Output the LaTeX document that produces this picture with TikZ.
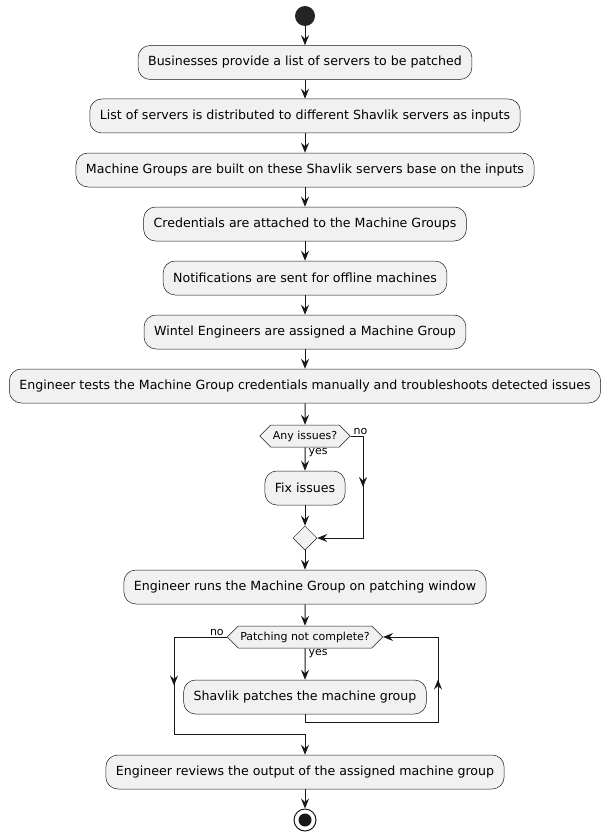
\documentclass[tikz,border=0pt]{standalone}
\usepackage{fontspec}
\setmainfont{DejaVu Sans}
\usepackage{xcolor}
\usepackage{tikz}
\usetikzlibrary{arrows.meta,shapes.geometric,shapes.symbols,calc}
\definecolor{actfill}{HTML}{F1F1F1}
\definecolor{actline}{HTML}{181818}

\begin{document}
\begin{tikzpicture}[x=1pt,y=-1pt,
  act/.style={draw=actline,line width=0.5pt,fill=actfill,rounded corners=12pt,minimum height=34pt,inner xsep=10pt,font=\fontsize{12.6}{14}\selectfont},
  cond/.style={draw=actline,line width=0.5pt,fill=actfill,signal,signal to=east and west,signal pointer angle=90,minimum height=22pt,inner xsep=2pt,font=\fontsize{11}{13}\selectfont},
  merge/.style={draw=actline,line width=0.5pt,fill=actfill,diamond,minimum size=24pt,inner sep=0pt},
  flow/.style={draw=actline,line width=1pt,-{Stealth[length=10pt,width=8pt,inset=3.5pt]}},
  guard/.style={font=\fontsize{11}{13}\selectfont,inner sep=1pt}]
%\draw[help lines] (0,0)grid[step=20](612,840);
\fill[white] (0,0) rectangle (612,840);
\node[circle,fill=actline!95,minimum size=20pt,inner sep=0pt] (start) at (305,16) {};
\node[act] (b1) at (305,62.5) {Businesses provide a list of servers to be patched};
\node[act] (b2) at (305,116) {List of servers is distributed to different Shavlik servers as inputs};
\node[act] (b3) at (305,170) {Machine Groups are built on these Shavlik servers base on the inputs};
\node[act] (b4) at (305,224) {Credentials are attached to the Machine Groups};
\node[act] (b5) at (305,278) {Notifications are sent for offline machines};
\node[act] (b6) at (305,332) {Wintel Engineers are assigned a Machine Group};
\node[act] (b7) at (305,386) {Engineer tests the Machine Group credentials manually and troubleshoots detected issues};
\node[cond] (d1) at (305,436) {Any issues?};
\node[act] (fix) at (305,488) {Fix issues};
\node[merge] (m1) at (305,538) {};
\node[act] (b8) at (305,587) {Engineer runs the Machine Group on patching window};
\node[cond] (d2) at (305,637) {Patching not complete?};
\node[act] (shav) at (305,697) {Shavlik patches the machine group};
\node[act] (b9) at (305,772) {Engineer reviews the output of the assigned machine group};
\node[circle,draw=actline,line width=1pt,minimum size=22pt,inner sep=0pt] (stop) at (305,820) {};
\node[circle,fill=actline,minimum size=13pt,inner sep=0pt] (stopdot) at (stop) {};
\draw (363,436)coordinate(n1)
      (363,538)coordinate(n2)
      (305,722)coordinate(l1)
      (438,722)coordinate(l2)
      (438,637)coordinate(l3)
      (174,637)coordinate(k1)
      (174,734)coordinate(k2)
      (305,734)coordinate(k3);
\foreach \a/\b in {start/b1,b1/b2,b2/b3,b3/b4,b4/b5,b5/b6,b6/b7,b7/d1,fix/m1,m1/b8,b8/d2,b9/stop}
  \draw[flow] (\a) -- (\b);
\draw[flow] (d1) -- node[guard,anchor=north west,pos=0,xshift=2pt]{yes} (fix);
\draw[flow] (d1.east) -- (n1) -- (n2) -- (m1.east);
\draw[flow] (n1) -- ($(n1)!0.5!(n2)$);
\node[guard,anchor=south west,xshift=2pt] (no1) at (d1.east) {no};
\draw[flow] (d2) -- node[guard,anchor=north west,pos=0,xshift=2pt]{yes} (shav);
\draw[flow] (shav.south) -- (l1) -- (l2) -- (l3) -- (d2.east);
\draw[flow] (l2) -- ($(l2)!0.5!(l3)$);
\draw[flow] (d2.west) -- (k1) -- (k2) -- (k3) -- (b9);
\draw[flow] (k1) -- ($(k1)!0.5!(k2)$);
\node[guard,anchor=south east,xshift=-2pt] (no2) at (d2.west) {no};
\end{tikzpicture}
\end{document}
